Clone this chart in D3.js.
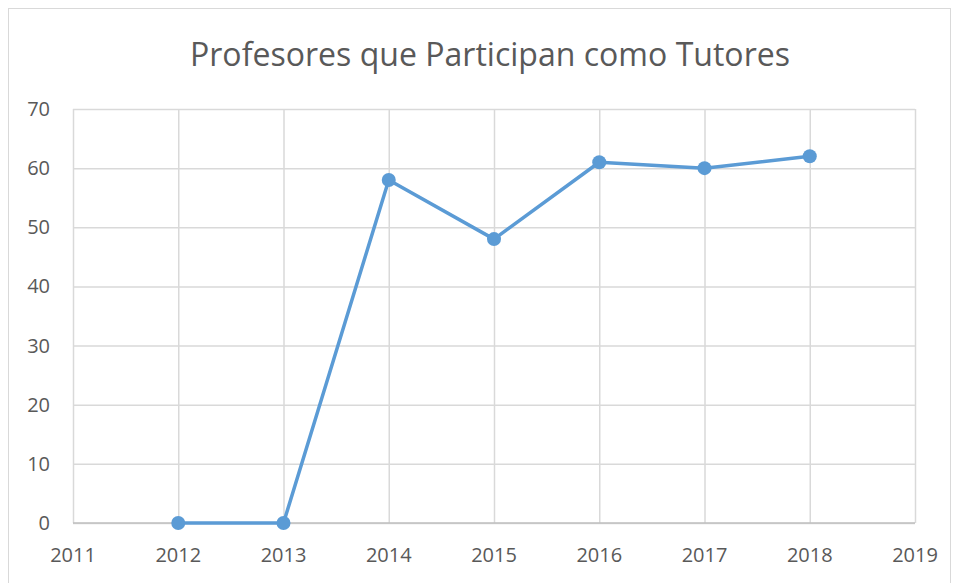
<!DOCTYPE html>
<html>
<head>
<meta charset="utf-8">
<script src="https://cdn.jsdelivr.net/npm/d3@7"></script>
<style>
  body { margin: 0; background: #fff; }
  svg { display: block; font-family: "Open Sans", sans-serif; }
</style>
</head>
<body>
<svg id="chart" width="956" height="583"></svg>
<script>
// data
var years = [2012, 2013, 2014, 2015, 2016, 2017, 2018];
var tutores = [0, 0, 58, 48, 61, 60, 62];
var xTicks = [2011, 2012, 2013, 2014, 2015, 2016, 2017, 2018, 2019];
var yTicks = [0, 10, 20, 30, 40, 50, 60, 70];
var chartTitle = "Profesores que Participan como Tutores";

// plot box (note: "top" is taken by window.top)
var plotLeft = 73, plotRight = 915, plotTop = 109, plotBottom = 523;

var svg = d3.select('#chart');

// outer border of the chart area
svg.append('rect')
    .attr('x', 8.5).attr('y', 8.5)
    .attr('width', 942).attr('height', 590)
    .attr('fill', '#fff')
    .attr('stroke', '#d9d9d9');

svg.append('text')
    .text(chartTitle)
    .attr('x', 490)
    .attr('y', 66)
    .attr('text-anchor', 'middle')
    .attr('fill', '#595959')
    .style('font-size', '32px')
    .attr('textLength', 600)
    .attr('lengthAdjust', 'spacingAndGlyphs');

// scales
var xScale = d3.scaleLinear().domain([2011, 2019]).range([plotLeft, plotRight]);
var yScale = d3.scaleLinear().domain([0, 70]).range([plotBottom, plotTop]);

// gridlines
svg.append('g')
    .attr('transform', 'translate(0,' + plotBottom + ')')
    .call(d3.axisBottom(xScale).tickValues(xTicks).tickSize(-(plotBottom - plotTop)).tickFormat(''))
    .call(g => g.select('.domain').remove())
    .selectAll('line').attr('stroke', '#d9d9d9').attr('stroke-width', 1.5);

svg.append('g')
    .attr('transform', 'translate(' + plotLeft + ',0)')
    .call(d3.axisLeft(yScale).tickValues(yTicks).tickSize(-(plotRight - plotLeft)).tickFormat(''))
    .call(g => g.select('.domain').remove())
    .selectAll('line').attr('stroke', '#d9d9d9').attr('stroke-width', 1.5);

// x axis line
svg.append('line')
    .attr('x1', plotLeft).attr('x2', plotRight)
    .attr('y1', plotBottom).attr('y2', plotBottom)
    .attr('stroke', '#bfbfbf').attr('stroke-width', 1.5);

// tick labels
svg.append('g').selectAll('text')
    .data(xTicks)
    .join('text')
    .text(d => d)
    .attr('x', d => xScale(d))
    .attr('y', 562)
    .attr('text-anchor', 'middle')
    .attr('fill', '#595959')
    .style('font-size', '20px');

svg.append('g').selectAll('text')
    .data(yTicks)
    .join('text')
    .text(d => d)
    .attr('x', 50)
    .attr('y', d => yScale(d) + 7)
    .attr('text-anchor', 'end')
    .attr('fill', '#595959')
    .style('font-size', '20px');

// series
var line = d3.line()
    .x((d, i) => xScale(years[i]))
    .y(d => yScale(d));

svg.append('path')
    .datum(tutores)
    .attr('d', line)
    .attr('fill', 'none')
    .attr('stroke', '#5b9bd5')
    .attr('stroke-width', 3.5)
    .attr('stroke-linejoin', 'round');

svg.append('g').selectAll('circle')
    .data(tutores)
    .join('circle')
    .attr('cx', (d, i) => xScale(years[i]))
    .attr('cy', d => yScale(d))
    .attr('r', 7)
    .attr('fill', '#5b9bd5');
</script>
</body>
</html>
